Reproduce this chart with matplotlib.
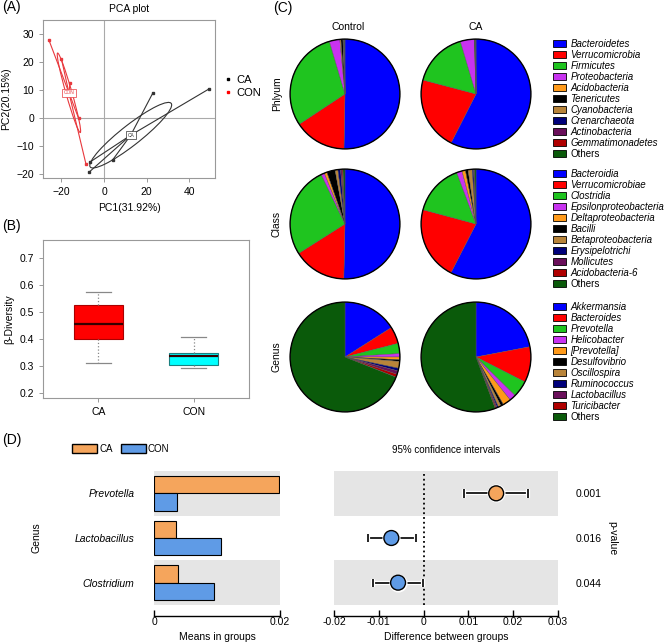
import numpy as np
import matplotlib
matplotlib.use('Agg')
import matplotlib.pyplot as plt
from matplotlib.patches import Ellipse, Patch, Circle
import matplotlib.patheffects as pe

plt.rcParams['font.family'] = ['Liberation Sans', 'DejaVu Sans']
plt.rcParams['font.size'] = 7.5

W, H = 667, 644

# ---- (A) PCA scores
ca_pc1 = [23, -7, -6.6, 4, 49.4]
ca_pc2 = [9, -19.3, -15.7, -15, 10.4]
con_pc1 = [-26, -20, -16, -12, -8.5]
con_pc2 = [28, 21, 12.5, 0, -16.4]

# ---- (B) beta diversity box stats
beta_groups = ['CA', 'CON']
beta_whislo = [0.31, 0.294]
beta_q1 = [0.40, 0.304]
beta_med = [0.455, 0.338]
beta_q3 = [0.525, 0.347]
beta_whishi = [0.575, 0.408]
beta_colors = ['#FF0000', '#00FFFF']

# ---- (C) relative abundance (%)
pie_colors = ['#0000FF', '#FF0000', '#1FC41F', '#C832F0', '#FF9A1A', '#000000',
              '#B8843A', '#00007A', '#6A0F5A', '#B00000', '#0A5A0A']
phylum_names = ['Bacteroidetes', 'Verrucomicrobia', 'Firmicutes', 'Proteobacteria',
                'Acidobacteria', 'Tenericutes', 'Cyanobacteria', 'Crenarchaeota',
                'Actinobacteria', 'Gemmatimonadetes', 'Others']
phylum_control = [50.3, 15.4, 29.7, 3.1, 0.3, 0.6, 0.2, 0.1, 0.1, 0.1, 0.1]
phylum_ca = [57.5, 21.6, 16.3, 4.1, 0.1, 0.1, 0.1, 0.05, 0.05, 0.05, 0.05]
class_names = ['Bacteroidia', 'Verrucomicrobiae', 'Clostridia', 'Epsilonproteobacteria',
               'Deltaproteobacteria', 'Bacilli', 'Betaproteobacteria', 'Erysipelotrichi',
               'Mollicutes', 'Acidobacteria-6', 'Others']
class_control = [50.8, 15.8, 27.1, 1.0, 0.8, 2.5, 0.8, 0.8, 0.4, 0.3, 0.6]
class_ca = [57.5, 21.6, 15.1, 1.6, 1.0, 0.8, 1.2, 0.4, 0.2, 0.1, 0.4]
genus_names = ['Akkermansia', 'Bacteroides', 'Prevotella', 'Helicobacter', '[Prevotella]',
               'Desulfovibrio', 'Oscillospira', 'Ruminococcus', 'Lactobacillus',
               'Turicibacter', 'Others']
genus_control = [16, 5, 3, 1, 0.8, 0.5, 2, 0.8, 1.0, 0.9, 69]
genus_ca = [22, 10.5, 4.9, 1.9, 2.4, 0.8, 0.8, 0.4, 0.3, 0.3, 55.7]

# ---- (D) differential genera
d_genus = ['Prevotella', 'Lactobacillus', 'Clostridium']
d_mean_ca = [0.0198, 0.0035, 0.0038]
d_mean_con = [0.0037, 0.0106, 0.0096]
d_diff = [0.0162, -0.0072, -0.0057]
d_ci_low = [0.0091, -0.0124, -0.0112]
d_ci_high = [0.0233, -0.0018, -0.0002]
d_pvalue = ['0.001', '0.016', '0.044']
col_ca = '#F5A55C'
col_con = '#5F9BE6'

fig = plt.figure(figsize=(W / 100, H / 100), dpi=100)


def add_ax(l, t, r, b):
    return fig.add_axes([l / W, 1 - b / H, (r - l) / W, (b - t) / H])


def gray_frame(ax, c='#999999'):
    for s in ax.spines.values():
        s.set_color(c)
        s.set_linewidth(0.8)
    ax.tick_params(color=c, length=3, width=0.7)


# ================= (A)
axA = add_ax(43, 20, 215, 178)
axA.set_xlim(-28.7, 52.2)
axA.set_ylim(-21.4, 35)
axA.axhline(0, color='#aaaaaa', lw=0.8, zorder=0)
axA.axvline(0, color='#aaaaaa', lw=0.8, zorder=0)


def draw_class(ax, xs, ys, color, label, k=0.9):
    xs, ys = np.array(xs), np.array(ys)
    cx, cy = xs.mean(), ys.mean()
    cov = np.cov(xs, ys, bias=True)
    vals, vecs = np.linalg.eigh(cov)
    ang = np.degrees(np.arctan2(vecs[1, -1], vecs[0, -1]))
    ax.add_patch(Ellipse((cx, cy), 2 * k * np.sqrt(vals[-1]), 2 * k * np.sqrt(vals[0]),
                         angle=ang, fill=False, ec=color, lw=0.8))
    for x, y in zip(xs, ys):
        ax.plot([cx, x], [cy, y], color=color, lw=0.8)
    ax.plot(xs, ys, 's', color=color, ms=1.5)
    ax.text(cx, cy, label, fontsize=3.5, color=color, ha='center', va='center',
            bbox=dict(boxstyle='square,pad=0.3', fc='white', ec=color, lw=0.5))


draw_class(axA, ca_pc1, ca_pc2, '#333333', 'CA')
draw_class(axA, con_pc1, con_pc2, '#E8383D', 'CON')
axA.set_xticks([-20, 0, 20, 40])
axA.set_yticks([-20, -10, 0, 10, 20, 30])
gray_frame(axA)
axA.set_xlabel('PC1(31.92%)', labelpad=4)
axA.set_ylabel('PC2(20.15%)')
axA.set_title('PCA plot', fontsize=7.5, pad=6)
axA.legend(handles=[plt.Line2D([], [], ls='', marker='s', ms=1.5, color='black', label='CA'),
                    plt.Line2D([], [], ls='', marker='s', ms=1.5, color='red', label='CON')],
           loc='center left', bbox_to_anchor=(1.0, 0.58), frameon=False,
           handlelength=0.6, handletextpad=0.4, labelspacing=0.3, fontsize=8)

# ================= (B)
axB = add_ax(43, 240, 249, 398)
stats = []
for i, g in enumerate(beta_groups):
    stats.append(dict(label=g, whislo=beta_whislo[i], q1=beta_q1[i], med=beta_med[i],
                      q3=beta_q3[i], whishi=beta_whishi[i], fliers=[]))
bp = axB.bxp(stats, positions=[1, 2], widths=0.52, patch_artist=True, showfliers=False,
             medianprops=dict(color='#330000', lw=1.6),
             whiskerprops=dict(color='#888888', ls=':', lw=0.9),
             capprops=dict(color='#888888', lw=0.9))
for patch, c, ec in zip(bp['boxes'], beta_colors, ['#AA0000', '#1A8080']):
    patch.set_facecolor(c)
    patch.set_edgecolor(ec)
    patch.set_linewidth(0.8)
axB.set_xlim(0.42, 2.58)
axB.set_ylim(0.1815, 0.767)
axB.set_yticks([0.2, 0.3, 0.4, 0.5, 0.6, 0.7])
axB.set_yticklabels(['0.2', '0.3', '0.4', '0.5', '0.6', '0.7'])
gray_frame(axB)
axB.set_ylabel('β-Diversity', labelpad=4)

# ================= (C)
pie_sets = [(phylum_control, phylum_ca, phylum_names, 94, 'Phlyum'),
            (class_control, class_ca, class_names, 224, 'Class'),
            (genus_control, genus_ca, genus_names, 357, 'Genus')]
R = 55
for vals_ctrl, vals_ca, names, cy, rowname in pie_sets:
    for cx, vals in [(345, vals_ctrl), (476, vals_ca)]:
        ax = add_ax(cx - R - 1, cy - R - 1, cx + R + 1, cy + R + 1)
        ax.pie(vals, colors=pie_colors, startangle=90, counterclock=False,
               wedgeprops=dict(linewidth=0.3, edgecolor='#555555'))
        ax.add_patch(Circle((0, 0), 1, fill=False, ec='black', lw=1.0))
        ax.set_xlim(-1.02, 1.02)
        ax.set_ylim(-1.02, 1.02)
        ax.set_aspect('equal')
        ax.axis('off')
    fig.text(277 / W, 1 - cy / H, rowname, rotation=90, ha='center', va='center', fontsize=7.5)
    handles = [Patch(fc=c, ec='black', lw=0.6, label=n) for c, n in zip(pie_colors, names)]
    leg = fig.legend(handles=handles, loc='upper left',
                     bbox_to_anchor=(553 / W, 1 - (cy - 55) / H), frameon=False,
                     fontsize=7, handlelength=1.3, handleheight=0.7, handletextpad=0.5,
                     labelspacing=0.1, borderpad=0, borderaxespad=0)
    for t in leg.get_texts():
        if t.get_text() != 'Others':
            t.set_style('italic')

fig.text(348 / W, 1 - 27 / H, 'Control', ha='center', va='center', fontsize=7.5)
fig.text(476 / W, 1 - 27 / H, 'CA', ha='center', va='center', fontsize=7.5)

# ================= (D) left
rows = np.arange(len(d_genus))
axL = add_ax(154, 471, 280, 605)
for r in rows[::2]:
    axL.axhspan(r - 0.5, r + 0.5, color='#E5E5E5', zorder=0, lw=0)
axL.barh(rows - 0.195, d_mean_ca, height=0.39, color=col_ca, ec='black', lw=0.8)
axL.barh(rows + 0.195, d_mean_con, height=0.39, color=col_con, ec='black', lw=0.8)
axL.set_xlim(0, 0.02)
axL.set_ylim(2.5, -0.5)
for s in ['top', 'right', 'left']:
    axL.spines[s].set_visible(False)
axL.spines['bottom'].set_position(('outward', 8))
axL.spines['bottom'].set_linewidth(1)
axL.set_xticks([0, 0.02])
axL.set_xticklabels(['0', '0.02'])
axL.tick_params(axis='x', direction='in', length=4, width=1, pad=0.5)
axL.set_yticks(rows)
axL.set_yticklabels(d_genus, style='italic')
axL.tick_params(axis='y', length=0, pad=14)
axL.set_xlabel('Means in groups', labelpad=4)
axL.set_ylabel('Genus')
axL.yaxis.set_label_coords((42 - 154) / 126, 0.5)
fig.legend(handles=[Patch(fc=col_ca, ec='black', label='CA'),
                    Patch(fc=col_con, ec='black', label='CON')],
           loc='center left', bbox_to_anchor=(72 / W, 1 - 449 / H), ncol=2, frameon=False,
           fontsize=7, handlelength=2.6, handleheight=1.0, handletextpad=0.2,
           columnspacing=0.8, borderpad=0, borderaxespad=0)

# ================= (D) right
axR = add_ax(334, 471, 558, 605)
for r in rows[::2]:
    axR.axhspan(r - 0.5, r + 0.5, color='#E5E5E5', zorder=0, lw=0)
axR.axvline(0, color='black', ls=':', lw=1.3, zorder=1)
d_diff_a = np.array(d_diff)
eb = axR.errorbar(d_diff_a, rows, xerr=[d_diff_a - np.array(d_ci_low), np.array(d_ci_high) - d_diff_a],
                  fmt='none', ecolor='black', elinewidth=1.2, capsize=3, capthick=1.2, zorder=2)
for art in list(eb.lines[1]) + list(eb.lines[2]):
    art.set_path_effects([pe.Stroke(linewidth=3, foreground='white'), pe.Normal()])
pt_colors = [col_ca if v > 0 else col_con for v in d_diff]
axR.scatter(d_diff, rows, s=170, c='white', zorder=3, lw=0)
axR.scatter(d_diff, rows, s=115, c=pt_colors, ec='black', lw=1, zorder=4)
axR.set_xlim(-0.02, 0.03)
axR.set_ylim(2.5, -0.5)
for s in ['top', 'right', 'left']:
    axR.spines[s].set_visible(False)
axR.spines['bottom'].set_position(('outward', 8))
axR.spines['bottom'].set_linewidth(1)
axR.set_xticks([-0.02, -0.01, 0, 0.01, 0.02, 0.03])
axR.set_xticklabels(['-0.02', '-0.01', '0', '0.01', '0.02', '0.03'])
axR.tick_params(axis='x', direction='in', length=4, width=1, pad=0.5)
axR.yaxis.tick_right()
axR.set_yticks(rows)
axR.set_yticklabels(d_pvalue)
axR.tick_params(axis='y', length=0, pad=13)
axR.yaxis.set_label_position('right')
axR.set_ylabel('p-value', rotation=270)
axR.yaxis.set_label_coords((617 - 334) / 224, 0.5)
axR.set_xlabel('Difference between groups', labelpad=4)
axR.set_title('95% confidence intervals', fontsize=7, pad=13)

# panel letters
for lbl, x, y in [('(A)', 2, 7), ('(B)', 2, 226), ('(C)', 273, 8), ('(D)', 2, 440)]:
    fig.text(x / W, 1 - y / H, lbl, ha='left', va='center', fontsize=10)

fig.savefig('out.png', dpi=100)
